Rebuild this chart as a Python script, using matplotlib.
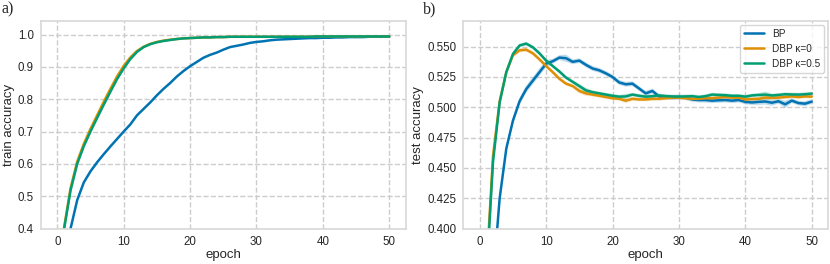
import numpy as np
import matplotlib.pyplot as plt
import seaborn as sns

#
# accuracy curves per epoch (epoch 0 .. 50)
# ----------------------------------------------------------------
#
epochs = np.arange(51)
labels = ["BP", "DBP \u03ba=0", "DBP \u03ba=0.5"]

train_bp = [0.15, 0.30, 0.40, 0.488, 0.543, 0.577, 0.605, 0.63, 0.654, 0.677,
            0.70, 0.722, 0.75, 0.77, 0.79, 0.812, 0.832, 0.85, 0.87, 0.887,
            0.902, 0.915, 0.928, 0.937, 0.944, 0.953, 0.961, 0.965, 0.969, 0.974,
            0.977, 0.979, 0.982, 0.984, 0.985, 0.986, 0.987, 0.988, 0.989, 0.989,
            0.990, 0.990, 0.991, 0.991, 0.992, 0.992, 0.992, 0.993, 0.993, 0.993,
            0.993]
train_dbp0 = [0.15, 0.40, 0.525, 0.607, 0.662, 0.708, 0.75, 0.792, 0.832, 0.87,
              0.903, 0.929, 0.949, 0.962, 0.971, 0.977, 0.981, 0.984, 0.986, 0.988,
              0.989, 0.990, 0.991, 0.991, 0.992, 0.992, 0.993, 0.993, 0.993, 0.993,
              0.993, 0.993, 0.993, 0.993, 0.993, 0.993, 0.993, 0.993, 0.993, 0.994,
              0.994, 0.994, 0.994, 0.994, 0.994, 0.994, 0.994, 0.994, 0.994, 0.994,
              0.994]
train_dbp05 = [0.15, 0.395, 0.518, 0.60, 0.655, 0.70, 0.742, 0.783, 0.823, 0.862,
               0.895, 0.924, 0.946, 0.961, 0.970, 0.976, 0.980, 0.983, 0.986, 0.988,
               0.989, 0.990, 0.991, 0.991, 0.992, 0.992, 0.993, 0.993, 0.993, 0.993,
               0.993, 0.993, 0.993, 0.993, 0.993, 0.993, 0.993, 0.993, 0.993, 0.994,
               0.994, 0.994, 0.994, 0.994, 0.994, 0.994, 0.994, 0.994, 0.994, 0.994,
               0.994]

test_bp = [0.10, 0.25, 0.357, 0.425, 0.466, 0.489, 0.505, 0.515, 0.522, 0.529,
           0.536, 0.538, 0.541, 0.5405, 0.5375, 0.5385, 0.535, 0.532, 0.5305, 0.528,
           0.525, 0.5205, 0.519, 0.5195, 0.5155, 0.5115, 0.5135, 0.509, 0.5085, 0.508,
           0.5085, 0.508, 0.5065, 0.506, 0.506, 0.5055, 0.5058, 0.506, 0.5055, 0.506,
           0.5045, 0.504, 0.5045, 0.5048, 0.5038, 0.505, 0.5025, 0.5055, 0.5035, 0.503,
           0.5047]
test_dbp0 = [0.10, 0.365, 0.46, 0.505, 0.529, 0.543, 0.547, 0.5475, 0.5445, 0.5395,
             0.534, 0.529, 0.5235, 0.5195, 0.5175, 0.5135, 0.5115, 0.5105, 0.5095, 0.5085,
             0.5075, 0.507, 0.5055, 0.507, 0.5065, 0.5065, 0.507, 0.507, 0.5075, 0.508,
             0.508, 0.5075, 0.507, 0.507, 0.5075, 0.5075, 0.508, 0.5085, 0.508, 0.508,
             0.5065, 0.5068, 0.507, 0.508, 0.5078, 0.508, 0.5085, 0.509, 0.5085, 0.509,
             0.5088]
test_dbp05 = [0.10, 0.36, 0.455, 0.504, 0.529, 0.544, 0.551, 0.5525, 0.5495, 0.5445,
              0.5385, 0.534, 0.5295, 0.5245, 0.521, 0.5175, 0.514, 0.5125, 0.5115, 0.5105,
              0.5095, 0.5088, 0.509, 0.5105, 0.5095, 0.5088, 0.5092, 0.5098, 0.5092, 0.509,
              0.5088, 0.509, 0.5092, 0.5085, 0.5092, 0.5105, 0.5102, 0.51, 0.5095, 0.5095,
              0.5088, 0.5098, 0.5102, 0.5105, 0.5098, 0.5102, 0.5108, 0.5106, 0.5105, 0.5108,
              0.5113]

# half width of the shaded band around the test curves
test_bp_err = [0.003, 0.003, 0.003, 0.003, 0.003, 0.003, 0.003, 0.003, 0.003, 0.003,
               0.003, 0.002, 0.002, 0.003, 0.002, 0.002, 0.002, 0.002, 0.002, 0.002,
               0.002, 0.002, 0.002, 0.002, 0.002, 0.002, 0.002, 0.002, 0.002, 0.002,
               0.002, 0.002, 0.002, 0.002, 0.002, 0.002, 0.002, 0.002, 0.002, 0.002,
               0.002, 0.002, 0.0025, 0.0025, 0.0025, 0.002, 0.003, 0.002, 0.002, 0.002,
               0.002]
test_dbp_err = [0.002, 0.002, 0.002, 0.002, 0.002, 0.002, 0.0015, 0.0015, 0.0015, 0.0015,
                0.0015, 0.0015, 0.0015, 0.0015, 0.0015, 0.002, 0.002, 0.0015, 0.0015, 0.0015,
                0.0015, 0.0015, 0.002, 0.0015, 0.0015, 0.0015, 0.0015, 0.0015, 0.0015, 0.0015,
                0.0015, 0.0015, 0.0015, 0.0015, 0.0015, 0.0015, 0.0015, 0.0015, 0.0015, 0.0015,
                0.0015, 0.0015, 0.0015, 0.0025, 0.0015, 0.0015, 0.0015, 0.0015, 0.0015, 0.0015,
                0.0015]

#
# graphics
# --------
#
sns.set_theme(style="whitegrid", palette="colorblind",
              rc={"grid.linestyle": "--", "axes.edgecolor": "0.85"})
plt.rcParams["font.family"] = ["Liberation Sans", "DejaVu Sans"]
colors = sns.color_palette("colorblind")[:3]

fig = plt.figure(figsize=(8.3, 2.64), dpi=100)
ax1 = fig.add_axes([0.049, 0.134, 0.440, 0.788])
ax2 = fig.add_axes([0.558, 0.134, 0.440, 0.788])

for ys, c, lab in zip([train_bp, train_dbp0, train_dbp05], colors, labels):
    ax1.plot(epochs, ys, color=c, lw=1.8, label=lab)
ax1.set_ylim(0.4, 1.043)
ax1.set_xlim(-2.5, 52.5)
ax1.set_xlabel("epoch", fontsize=9.5, labelpad=1)
ax1.set_ylabel("train accuracy", fontsize=9.5, labelpad=2)

for ys, err, c, lab in zip([test_bp, test_dbp0, test_dbp05],
                           [test_bp_err, test_dbp_err, test_dbp_err], colors, labels):
    ys = np.array(ys)
    err = np.array(err)
    ax2.fill_between(epochs, ys - err, ys + err, color=c, alpha=0.25, lw=0)
    ax2.plot(epochs, ys, color=c, lw=1.8, label=lab)
ax2.set_ylim(0.4, 0.5715)
ax2.set_xlim(-2.5, 52.5)
ax2.set_yticks([0.4, 0.425, 0.45, 0.475, 0.5, 0.525, 0.55])
ax2.yaxis.set_major_formatter(plt.FormatStrFormatter("%.3f"))
ax2.set_xlabel("epoch", fontsize=9.5, labelpad=1)
ax2.set_ylabel("test accuracy", fontsize=9.5, labelpad=2)
ax2.legend(loc="upper right", fontsize=7.2, frameon=True, borderaxespad=0.4)

for ax in (ax1, ax2):
    ax.set_xticks([0, 10, 20, 30, 40, 50])
    ax.tick_params(labelsize=8.3, length=0, pad=5)

fig.text(0.002, 0.995, "a)", fontsize=11.5, va="top", family="Liberation Serif")
fig.text(0.51, 0.995, "b)", fontsize=11.5, va="top", family="Liberation Serif")

fig.savefig("out.png", dpi=100)
